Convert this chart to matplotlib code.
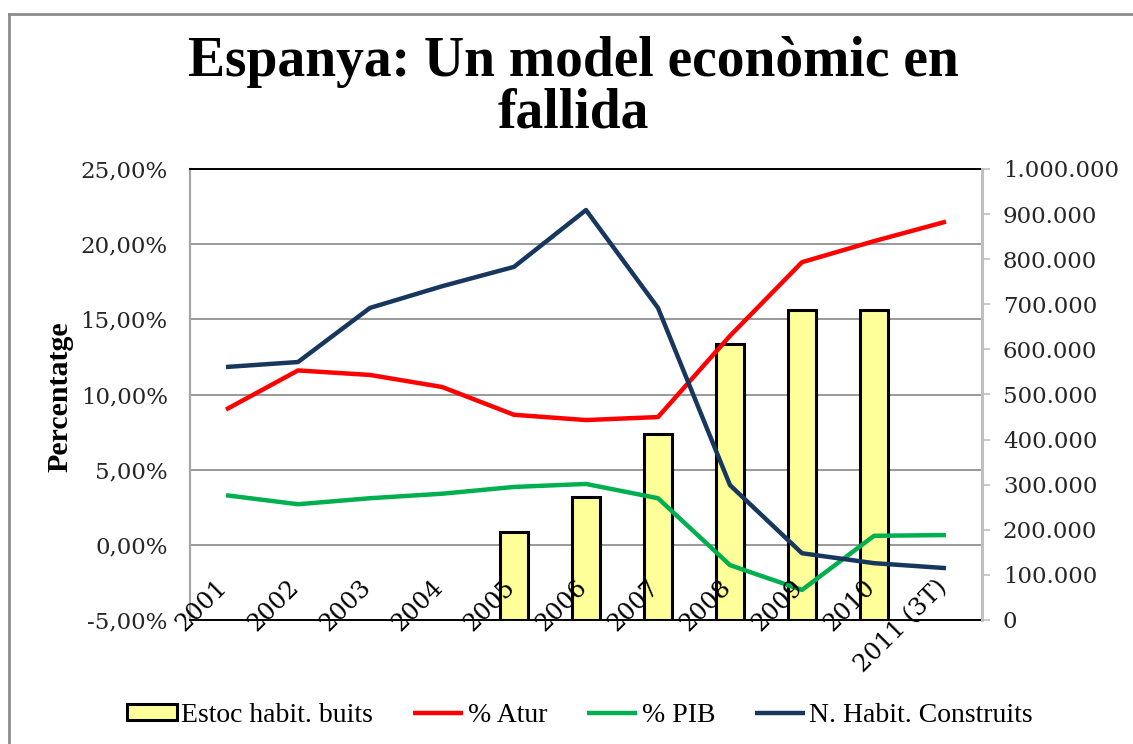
import matplotlib
matplotlib.use("Agg")
import matplotlib.pyplot as plt
from matplotlib.lines import Line2D
from matplotlib.transforms import ScaledTranslation
import numpy as np

# ---------------- data ----------------
years = ["2001", "2002", "2003", "2004", "2005", "2006", "2007", "2008", "2009", "2010", "2011 (3T)"]
estoc_habit_buits = [None, None, None, None, 195000, 273000, 413000, 613000, 688000, 687000, None]
atur_pct = [9.0, 11.6, 11.3, 10.5, 8.65, 8.3, 8.5, 13.9, 18.8, 20.2, 21.5]
pib_pct = [3.3, 2.7, 3.1, 3.4, 3.85, 4.05, 3.1, -1.35, -3.0, 0.6, 0.65]
habit_construits = [561000, 572000, 692000, 740000, 783000, 909000, 692000, 299000, 148000, 126000, 115000]

left_ticks = [-5, 0, 5, 10, 15, 20, 25]
right_ticks = list(range(0, 1000001, 100000))

title_line1 = "Espanya: Un model econòmic en"
title_line2 = "fallida"
ylabel = "Percentatge"
legend_labels = ["Estoc habit. buits", "% Atur", "% PIB", "N. Habit. Construits"]

# ---------------- style ----------------
W, H, DPI = 1133, 744, 100
fig = plt.figure(figsize=(W / DPI, H / DPI), dpi=DPI)
fig.patch.set_facecolor("white")

serif_t = ["Liberation Serif", "DejaVu Serif"]
serif_d = ["DejaVu Serif"]

x = np.arange(len(years))
L, R, B, T = 190 / W, 982 / W, (H - 620) / H, (H - 169) / H

ax = fig.add_axes([L, B, R - L, T - B])
ax.set_zorder(1)
ax.set_xlim(-0.5, len(years) - 0.5)
ax.set_ylim(-5, 25)
ax.set_yticks(left_ticks)
ax.set_yticklabels([f"{v:.2f}".replace(".", ",") + "%" for v in left_ticks],
                   family=serif_d, fontsize=16.5, color="#262626")
ax.tick_params(axis="y", length=0, pad=16)
ax.yaxis.grid(True, color="#878787", lw=1.2)
ax.set_axisbelow(True)
for s in ["top", "bottom"]:
    ax.spines[s].set_color("black")
    ax.spines[s].set_linewidth(1.4)
ax.spines["left"].set_color("#A6A6A6")
ax.spines["left"].set_linewidth(1.6)
ax.spines["right"].set_visible(False)
ax.set_xticks(x)
ax.tick_params(axis="x", length=0, labelbottom=False)

# bars (right scale)
axb = ax.twinx()
axb.set_zorder(2)
axb.patch.set_visible(False)
axb.set_ylim(0, 1000000)
bx = [i for i, v in enumerate(estoc_habit_buits) if v is not None]
bv = [v for v in estoc_habit_buits if v is not None]
bars = axb.bar(bx, bv, width=0.4, facecolor="#FFFF99", edgecolor="black", lw=2.2,
               label=legend_labels[0])
axb.set_yticks(right_ticks)
axb.set_yticklabels(["0" if v == 0 else f"{v:,}".replace(",", ".") for v in right_ticks],
                    family=serif_d, fontsize=16.5, color="#262626")
axb.tick_params(axis="y", length=6, width=1.2, color="#BFBFBF", pad=9)
for s in ["top", "bottom", "left"]:
    axb.spines[s].set_visible(False)
axb.spines["right"].set_color("#C0C0C0")
axb.spines["right"].set_linewidth(2.2)

# percent lines
axl = ax.twinx()
axl.set_zorder(3)
axl.patch.set_visible(False)
axl.set_ylim(-5, 25)
axl.axis("off")
l1, = axl.plot(x, atur_pct, color="#FF0000", lw=3.2, solid_joinstyle="round",
               solid_capstyle="butt", label=legend_labels[1])
l2, = axl.plot(x, pib_pct, color="#00B050", lw=3.2, solid_joinstyle="round",
               solid_capstyle="butt", label=legend_labels[2])

# construits line (right scale) + category labels on top layer
axn = ax.twinx()
axn.set_zorder(4)
axn.patch.set_visible(False)
axn.set_ylim(0, 1000000)
for s in axn.spines.values():
    s.set_visible(False)
axn.tick_params(axis="y", right=False, labelright=False, left=False, labelleft=False)
l3, = axn.plot(x, habit_construits, color="#17375E", lw=3.2, solid_joinstyle="round",
               solid_capstyle="butt", label=legend_labels[3])
axn.xaxis.set_visible(True)
axn.set_xticks(x)
axn.set_xticklabels(years, family=serif_d, fontsize=17.5, rotation=45, ha="right", va="top")
axn.tick_params(axis="x", length=0, pad=0, bottom=True, labelbottom=True, top=False, labeltop=False)
off = ScaledTranslation(6 / DPI, 44 / DPI, fig.dpi_scale_trans)
for lab in axn.get_xticklabels():
    lab.set_transform(lab.get_transform() + off)

# titles
fig.text(0.506, (H - 76) / H, title_line1, ha="center", va="baseline",
         family=serif_t, fontweight="bold", fontsize=40)
fig.text(0.506, (H - 127) / H, title_line2, ha="center", va="baseline",
         family=serif_t, fontweight="bold", fontsize=40)
fig.text(60 / W, (H - 397) / H, ylabel, rotation=90, ha="center", va="center",
         family=serif_t, fontweight="bold", fontsize=21.5)

# legend
leg = fig.legend([bars, l1, l2, l3], legend_labels, loc="center",
                 bbox_to_anchor=(0.512, (H - 715) / H), ncol=4, frameon=False,
                 prop={"family": serif_t, "size": 20}, handlelength=1.8,
                 handleheight=0.5, handletextpad=0.15, columnspacing=1.45)

# outer frame (left and top)
fig.add_artist(Line2D([9 / W, 9 / W], [0, (H - 14) / H], color="#8C8C8C", lw=2,
                      transform=fig.transFigure))
fig.add_artist(Line2D([9 / W, 1], [(H - 14) / H, (H - 14) / H], color="#8C8C8C", lw=2,
                      transform=fig.transFigure))

fig.savefig("out.png", dpi=DPI, facecolor="white")
